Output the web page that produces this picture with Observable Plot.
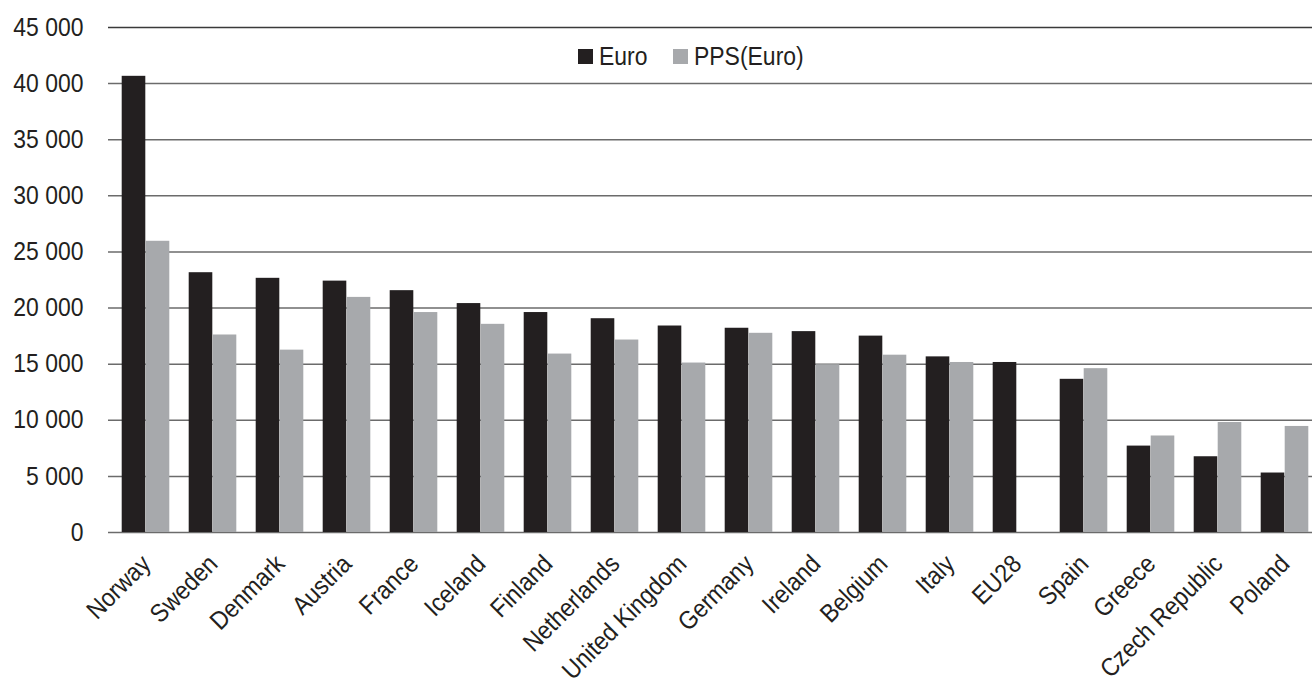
<!DOCTYPE html>
<html>
<head>
<meta charset="utf-8">
<script src="https://cdn.jsdelivr.net/npm/d3@7"></script>
<script src="https://cdn.jsdelivr.net/npm/@observablehq/plot@0.6"></script>
<style>
  html, body { margin: 0; padding: 0; background: #fff; overflow: hidden; }
  #chart { position: relative; width: 1312px; height: 684px; }
  #chart svg { overflow: hidden; }
  .legend {
    position: absolute; top: 42px; left: 578px;
    display: flex; align-items: center;
    font-family: "Liberation Sans", Arial, sans-serif;
    font-size: 25.5px; color: #231f20;
  }
  .legend .sw { display: inline-block; width: 15px; height: 15px; margin-right: 6px; }
  .legend .item { display: flex; align-items: center; }
  .legend .item + .item { margin-left: 20px; }
  .legend .lab { display: inline-block; transform: scaleX(0.9); transform-origin: left center; }
</style>
</head>
<body>
<div id="chart"></div>
<script>
// Annual earnings by country, in euro and in purchasing power standards
const countries = ["Norway", "Sweden", "Denmark", "Austria", "France", "Iceland", "Finland",
  "Netherlands", "United Kingdom", "Germany", "Ireland", "Belgium", "Italy", "EU28",
  "Spain", "Greece", "Czech Republic", "Poland"];
const euro = [40650, 23150, 22650, 22400, 21550, 20400, 19600, 19050, 18400, 18200,
  17900, 17500, 15650, 15150, 13650, 7700, 6750, 5300];
const pps = [25950, 17600, 16250, 20950, 19600, 18550, 15900, 17150, 15100, 17750,
  14950, 15800, 15150, null, 14600, 8600, 9800, 9450];
const seriesNames = ["Euro", "PPS(Euro)"];
const seriesColors = ["#231f20", "#a7a9ac"];
const yTicks = [0, 5000, 10000, 15000, 20000, 25000, 30000, 35000, 40000, 45000];

const rows = countries.map((c, i) => ({country: c, euro: euro[i], pps: pps[i]}));
const fmt = (d) => d3.format(",")(d).replace(/,/g, " ");

const font = `"Liberation Sans", Arial, sans-serif`;
const textSize = 25.5;
const narrow = 0.9; // horizontal squeeze for a condensed look

const chart = Plot.plot({
  width: 1312,
  height: 684,
  marginLeft: 108,
  marginRight: 0,
  marginTop: 27,
  marginBottom: 152,
  style: {fontFamily: font, fontSize: `${textSize}px`, color: "#231f20", background: "#fff"},
  x: {domain: countries, range: [108.6, 1321.8], padding: 0, axis: null},
  y: {domain: [0, 45000], axis: null},
  marks: [
    Plot.ruleY(yTicks.filter((t) => t < 45000), {stroke: "#6b6b6b", strokeWidth: 1.5}),
    Plot.ruleY([45000], {stroke: "#3a3a3a", strokeWidth: 1.5}),
    Plot.barY(rows, {x: "country", y: "euro", fill: seriesColors[0], insetLeft: 9.7, insetRight: 33.7}),
    Plot.barY(rows.filter((d) => d.pps != null), {x: "country", y: "pps", fill: seriesColors[1], insetLeft: 33.7, insetRight: 9.7}),
    Plot.axisY({ticks: yTicks, tickSize: 0, tickPadding: 25, tickFormat: fmt, label: null, fontSize: textSize}),
    Plot.text(countries, {
      x: (d) => d, frameAnchor: "bottom", rotate: -45, textAnchor: "end", lineAnchor: "bottom",
      dx: 6, dy: 33, fontSize: textSize, fill: "#231f20"
    })
  ]
});

// Squeeze every label along its own baseline, keeping its anchor point fixed
d3.select(chart).selectAll("text").each(function () {
  const t = this.getAttribute("transform");
  if (t && t.includes("translate")) {
    this.setAttribute("transform", `${t} scale(${narrow},1)`);
  } else {
    const x = +(this.getAttribute("x") || 0), y = +(this.getAttribute("y") || 0);
    this.removeAttribute("x");
    this.removeAttribute("y");
    this.setAttribute("transform", `${t ? t + " " : ""}translate(${x},${y}) scale(${narrow},1)`);
  }
});

const root = document.getElementById("chart");
root.appendChild(chart);

const legend = document.createElement("div");
legend.className = "legend";
seriesNames.forEach((name, i) => {
  const item = document.createElement("span");
  item.className = "item";
  const sw = document.createElement("span");
  sw.className = "sw";
  sw.style.background = seriesColors[i];
  const lab = document.createElement("span");
  lab.className = "lab";
  lab.textContent = name;
  item.appendChild(sw);
  item.appendChild(lab);
  legend.appendChild(item);
});
root.appendChild(legend);
</script>
</body>
</html>
